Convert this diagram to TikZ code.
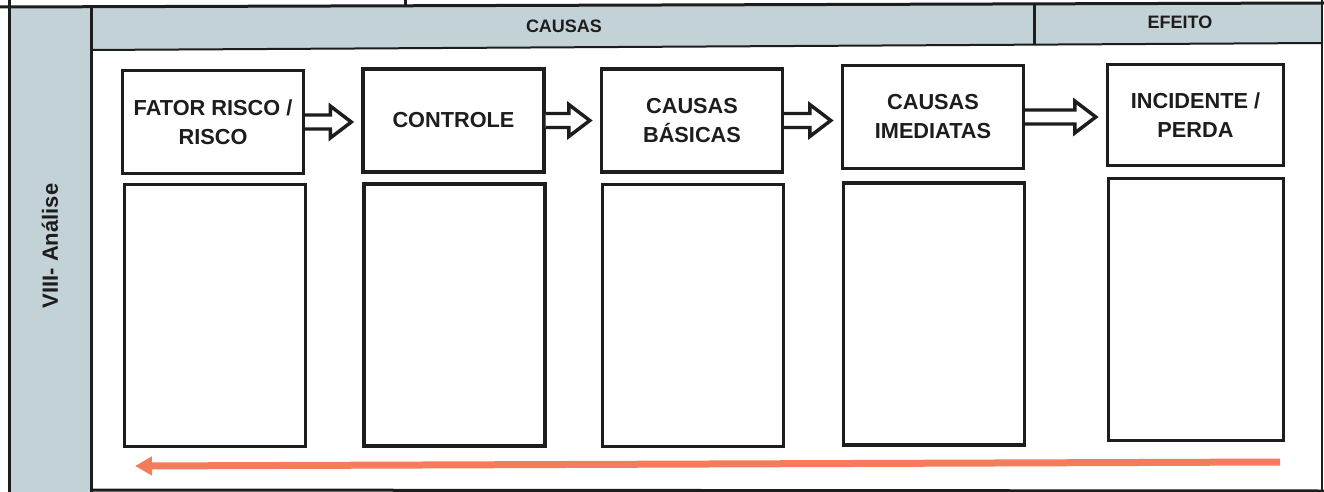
\documentclass[tikz,border=0pt]{standalone}
\usepackage{fontspec}
\setmainfont{Liberation Sans}
\usetikzlibrary{arrows.meta,calc}
\definecolor{panel}{HTML}{C3D2D7}
\definecolor{coral}{HTML}{F47B5C}
\definecolor{ink}{HTML}{1E1C1C}
\begin{document}
\begin{tikzpicture}[x=0.75pt,y=-0.75pt,
  frame/.style={draw=ink, line width=2.25pt},
  topbox/.style={draw=ink, line width=2.6pt, fill=white, align=center,
    font=\bfseries\fontsize{16.3}{21.75}\selectfont, text=ink, inner sep=0pt,
    minimum width=181*0.75pt, minimum height=103*0.75pt},
  botbox/.style={draw=ink, line width=2.6pt, fill=white, inner sep=0pt,
    minimum width=181*0.75pt, minimum height=262*0.75pt},
  headtxt/.style={font=\bfseries\fontsize{13.5}{15}\selectfont, text=ink},
  hollow/.style={draw=ink, line width=2.6pt, fill=white, line join=miter},
  back/.style={draw=coral, line width=5.25pt, -{Triangle[length=12.75pt, width=13.5pt]}}
]
\useasboundingbox (0,0) rectangle (1324,492);
\fill[white] (0,0) rectangle (1324,492);
% grey panels
\fill[panel] (9,6) rectangle (91,492);
\fill[panel] (91,6) -- (1322,4) -- (1322,43) -- (91,50) -- cycle;
% frame lines
\draw[frame] (0,7) -- (1324,3);
\draw[frame] (9,0) -- (9,492);
\draw[frame] (405,0) -- (405,6);
\draw[frame] (91,6) -- (91,492);
\draw[frame, line width=1.5pt] (91,50) -- (1322,43);
\draw[frame] (1034,5) -- (1034,45);
\draw[draw=ink, line width=1pt] (1322,0) -- (1322,492);
\draw[frame] (91,490) -- (1324,491);
% header texts
\node[headtxt] (causas) at (564,26) {CAUSAS};
\node[headtxt] (efeito) at (1180,22) {EFEITO};
\node[rotate=90, font=\bfseries\fontsize{16.5}{18}\selectfont, text=ink] (analise) at (50,246) {VIII- Análise};
% top boxes
\node[topbox] (t1) at (213,122) {FATOR RISCO /\\RISCO};
\node[topbox] (t2) at (453.5,120.5) {CONTROLE};
\node[topbox] (t3) at (692,120.5) {CAUSAS\\BÁSICAS};
\node[topbox] (t4) at (933,117) {CAUSAS\\IMEDIATAS};
\node[topbox, minimum width=176*0.75pt, minimum height=101*0.75pt] (t5) at (1195.5,115) {INCIDENTE /\\PERDA};
% bottom boxes
\node[botbox] (b1) at (215,315.5) {};
\node[botbox] (b2) at (454.5,315) {};
\node[botbox] (b3) at (693,315.5) {};
\node[botbox] (b4) at (934,314) {};
\node[botbox, minimum width=175*0.75pt] (b5) at (1196,309.5) {};
% hollow arrows
\foreach \a/\b in {t1/t2,t2/t3,t3/t4,t4/t5}{
  \draw[hollow] let \p1=(\a.east), \p2=(\b.west) in
    (\x1,\y1+5.25pt) -- (\x2-23.25pt,\y1+5.25pt) -- (\x2-23.25pt,\y1+12pt)
    -- (\x2-7.5pt,\y1) -- (\x2-23.25pt,\y1-12pt) -- (\x2-23.25pt,\y1-5.25pt)
    -- (\x1,\y1-5.25pt);
}
% back arrow
\coordinate (bs) at (1280,462);
\coordinate (be) at (135,466);
\draw[back] (bs) -- (be);
\end{tikzpicture}
\end{document}
